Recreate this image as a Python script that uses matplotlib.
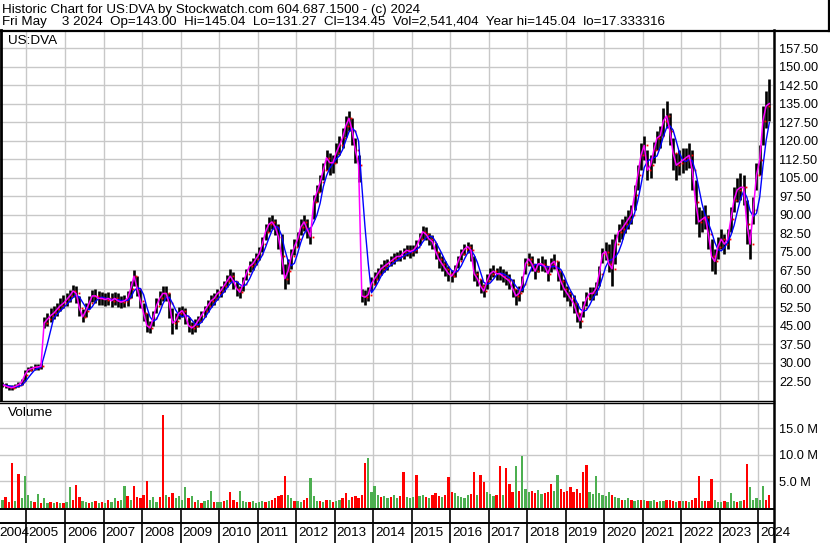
import numpy as np
import pandas as pd
import matplotlib
matplotlib.use("Agg")
import matplotlib.pyplot as plt
import matplotlib.transforms as mtransforms
from matplotlib.lines import Line2D

W, H = 830, 543
plt.rcParams['font.family'] = ['Liberation Sans', 'DejaVu Sans']

# monthly bars, first month = May 2004, last = Apr 2024
start_year, start_month = 2004, 5

close = [
    21.0, 20.5, 20.0, 19.8, 20.3, 21.0, 22.0, 25.0,                      # 2004 May-Dec
    27.0, 27.5, 28.0, 28.2, 28.5, 46.0, 47.5, 49.0, 50.0, 51.5, 53.0, 54.0,  # 2005
    55.5, 57.0, 59.0, 58.0, 52.0, 48.5, 51.0, 54.0, 57.0, 57.0, 56.0, 56.0,  # 2006
    55.5, 56.0, 55.0, 56.0, 55.0, 54.5, 55.0, 56.0, 60.0, 65.0, 60.0, 55.0,  # 2007
    50.0, 45.0, 44.0, 48.0, 53.0, 56.0, 58.0, 58.0, 54.0, 46.0, 47.0, 50.0,  # 2008
    51.0, 49.0, 45.0, 44.0, 45.0, 47.0, 49.0, 51.0, 53.0, 55.0, 56.0, 58.0,  # 2009
    59.0, 61.0, 63.0, 65.0, 63.0, 60.0, 58.5, 62.0, 66.0, 69.0, 70.0, 72.0,  # 2010
    74.0, 78.0, 83.0, 86.0, 87.0, 85.0, 81.0, 73.0, 64.0, 67.0, 73.0, 77.0,  # 2011
    80.0, 85.0, 87.0, 84.0, 81.0, 95.0, 99.0, 103.0, 108.0, 113.0, 111.0, 111.0,  # 2012
    115.0, 118.0, 121.0, 126.0, 129.0, 124.0, 116.0, 110.0, 57.0, 56.5, 57.5, 62.0,  # 2013
    64.0, 66.0, 68.0, 69.0, 70.0, 71.0, 72.0, 73.0, 73.0, 74.5, 75.5, 75.0,  # 2014
    75.5, 77.0, 80.0, 83.0, 82.0, 80.0, 79.0, 75.0, 72.0, 70.0, 68.0, 66.0,  # 2015
    65.0, 67.0, 71.0, 74.0, 76.0, 77.0, 75.5, 66.0, 64.0, 61.0, 59.0, 63.0,  # 2016
    66.0, 67.0, 66.0, 66.0, 65.0, 64.0, 63.0, 60.0, 57.0, 58.0, 62.0, 70.0,  # 2017
    72.0, 70.0, 67.0, 70.0, 70.0, 69.0, 66.0, 70.0, 71.0, 67.0, 63.0, 60.0,  # 2018
    58.0, 56.0, 54.0, 50.0, 47.0, 52.0, 56.0, 58.0, 58.0, 60.0, 66.0, 74.0,  # 2019
    75.0, 70.0, 68.0, 78.0, 83.0, 84.0, 86.0, 88.0, 90.0, 98.0, 106.0, 114.0,  # 2020
    118.0, 108.0, 110.0, 116.0, 121.0, 122.0, 128.0, 130.0, 124.0, 115.0, 110.0, 111.0,  # 2021
    112.0, 113.0, 114.0, 108.0, 95.0, 87.0, 88.0, 89.0, 82.0, 73.0, 71.0, 77.0,  # 2022
    80.0, 78.0, 80.0, 88.0, 96.0, 100.0, 101.0, 101.0, 86.0, 78.0, 92.0, 106.0,  # 2023
    112.0, 128.0, 134.0, 135.0,                                          # 2024 Jan-Apr
]

high = [
    22.0, 21.5, 21.0, 20.8, 21.2, 22.0, 23.5, 27.0,
    28.0, 28.5, 29.5, 29.5, 30.0, 48.5, 50.0, 52.0, 53.0, 54.0, 56.0, 57.5,
    58.0, 59.5, 61.5, 61.0, 57.0, 51.5, 54.0, 57.0, 59.5, 60.0, 59.0, 58.5,
    58.0, 58.5, 58.0, 58.5, 58.0, 57.0, 57.5, 59.0, 63.0, 67.5, 65.0, 60.0,
    54.0, 50.0, 47.0, 51.0, 56.0, 59.0, 61.0, 61.0, 58.0, 52.0, 50.0, 52.5,
    53.0, 52.0, 48.5, 46.5, 47.5, 49.0, 51.0, 53.0, 55.5, 57.5, 58.0, 60.0,
    61.0, 63.0, 65.5, 68.0, 66.5, 63.0, 61.0, 64.5, 68.0, 71.0, 72.5, 74.5,
    77.0, 81.0, 86.0, 89.0, 90.0, 88.0, 86.0, 82.0, 70.0, 72.0, 76.0, 80.0,
    83.0, 88.0, 90.0, 88.0, 85.0, 98.0, 102.0, 106.0, 111.0, 116.0, 115.0, 114.0,
    119.0, 122.0, 125.0, 130.0, 132.0, 129.0, 121.0, 114.0, 60.0, 59.5, 60.5, 64.5,
    66.5, 68.5, 70.0, 71.5, 72.0, 73.0, 74.5, 75.0, 75.5, 76.5, 77.5, 77.5,
    77.5, 79.5, 82.5, 85.5, 85.0, 82.5, 81.5, 78.5, 75.0, 73.0, 71.0, 69.0,
    67.5, 69.5, 73.0, 76.0, 78.0, 79.0, 78.0, 73.0, 67.0, 64.0, 62.0, 66.0,
    68.5, 69.5, 68.5, 69.0, 68.0, 67.0, 66.0, 64.0, 60.0, 61.0, 65.0, 72.5,
    74.5, 73.0, 70.0, 72.5, 73.0, 72.0, 69.0, 72.5, 74.0, 71.0, 67.0, 64.0,
    61.0, 59.0, 57.5, 54.0, 50.0, 55.0, 58.5, 60.5, 60.5, 62.5, 69.0, 76.5,
    79.0, 78.0, 80.0, 82.0, 86.0, 88.0, 89.5, 92.0, 94.0, 102.0, 110.0, 119.0,
    122.0, 116.0, 114.0, 119.5, 124.0, 126.0, 133.0, 136.0, 131.0, 121.0, 115.0, 116.0,
    117.0, 117.0, 119.0, 116.0, 104.0, 93.0, 92.0, 94.0, 90.0, 80.0, 76.0, 81.0,
    84.0, 82.0, 84.0, 93.0, 101.0, 105.0, 107.0, 106.0, 96.0, 84.0, 97.0, 111.0,
    118.0, 134.0, 140.0, 145.0,
]

low = [
    20.0, 19.6, 18.8, 18.9, 19.5, 20.2, 21.0, 22.5,
    26.0, 26.5, 27.0, 27.0, 27.5, 44.0, 45.0, 46.5, 47.5, 49.0, 51.0, 52.0,
    53.0, 54.5, 56.5, 54.0, 49.0, 46.5, 48.5, 51.5, 54.5, 54.0, 53.5, 53.5,
    53.0, 53.5, 52.5, 53.5, 52.5, 52.0, 52.5, 53.0, 56.0, 61.0, 57.0, 52.0,
    47.0, 42.5, 42.0, 45.0, 50.0, 53.5, 55.0, 55.0, 48.0, 41.5, 43.5, 47.5,
    48.5, 45.5, 42.5, 41.5, 42.5, 44.5, 46.5, 48.5, 50.5, 52.5, 53.5, 55.5,
    56.5, 58.5, 60.5, 62.5, 60.0, 57.0, 56.0, 59.0, 63.5, 66.5, 67.5, 69.5,
    71.5, 75.0, 79.5, 83.0, 84.0, 81.5, 76.0, 66.0, 60.0, 62.0, 68.0, 73.5,
    77.0, 81.5, 83.5, 80.5, 78.0, 88.0, 95.0, 99.0, 104.0, 108.0, 106.0, 107.0,
    111.0, 114.0, 117.0, 121.5, 124.0, 118.0, 111.0, 103.0, 54.5, 53.5, 55.0, 59.0,
    61.5, 63.5, 65.5, 66.5, 67.5, 69.0, 70.0, 71.0, 71.0, 72.0, 73.0, 72.5,
    73.0, 74.5, 77.5, 80.0, 79.5, 77.5, 76.0, 72.0, 68.5, 67.0, 65.0, 63.0,
    62.5, 64.5, 68.5, 71.5, 73.5, 74.5, 71.0, 63.0, 61.0, 58.0, 56.5, 60.0,
    63.5, 64.5, 63.5, 63.5, 62.5, 61.5, 60.0, 56.5, 53.5, 55.0, 58.5, 66.0,
    69.0, 67.0, 64.0, 66.5, 67.0, 66.5, 63.0, 66.5, 68.0, 63.0, 59.5, 56.5,
    55.0, 53.0, 50.0, 46.5, 44.0, 48.5, 53.0, 55.5, 55.5, 57.5, 61.0, 70.5,
    71.5, 66.5, 61.0, 70.0, 79.0, 80.0, 82.5, 84.0, 86.0, 92.0, 100.0, 108.0,
    112.0, 104.0, 105.0, 111.0, 116.0, 117.0, 122.0, 125.0, 118.0, 108.0, 104.0, 106.0,
    107.0, 108.0, 109.0, 100.0, 86.0, 81.0, 83.0, 84.0, 76.0, 67.0, 66.0, 72.0,
    76.0, 74.0, 76.0, 83.0, 91.0, 95.0, 96.0, 94.0, 78.0, 72.0, 86.0, 100.0,
    106.0, 118.0, 125.0, 128.0,
]

# volume in millions, negative = down (red), positive = up (green)
volume = [
    1.5, -2.0, -1.2, -8.4, 1.3, -6.5, 1.8, 6.0,
    2.5, 1.4, -1.2, 2.6, -1.0, 1.8, 1.0, -1.2, 0.9, -1.1, 1.0, -0.9,
    1.2, 3.9, -1.5, -4.4, -2.0, 1.3, 1.1, -1.0, 1.2, -1.4, 1.0, -1.1,
    1.0, -1.6, 1.2, 1.8, -1.3, 1.5, 4.1, -2.2, 1.6, -4.2, -2.0, -1.8,
    -2.5, -5.1, 1.5, 2.0, 1.2, -2.0, -17.5, 2.5, -2.0, -2.8, 1.8, 2.2,
    1.5, 4.0, -1.8, 2.2, -1.2, 1.5, -1.0, 1.4, 1.6, 3.3, -1.2, 1.1,
    1.2, -1.4, 1.5, -3.0, -1.5, -1.2, 3.3, 1.4, 1.2, -1.1, 1.3, 1.0,
    1.2, 1.4, -1.1, 1.3, -1.5, -1.8, -2.2, -2.5, -6.0, 2.5, 1.8, -1.4,
    1.3, 1.2, -1.5, -1.8, 5.6, 2.2, 1.4, -1.3, 1.2, -1.5, 1.6, -1.2,
    1.4, 1.6, -1.8, -2.8, 1.5, -2.0, -2.2, -1.8, -2.5, -8.4, 9.4, 3.0,
    4.2, 2.5, -2.0, 2.2, 1.8, -2.0, 2.4, 1.8, -2.2, -6.8, 2.0, 1.8,
    2.0, -6.3, 2.2, 2.5, -2.0, 1.8, -2.4, -2.8, -2.2, 2.0, -2.5, -5.9,
    -3.0, 2.8, 2.2, 2.0, 1.8, 2.4, -2.6, -6.8, 2.4, -6.3, -4.9, 3.0,
    2.6, 2.2, -2.5, -7.9, 2.4, -7.5, -4.5, -3.0, 7.9, -3.2, 9.9, 3.5,
    3.0, -3.2, -2.8, 3.4, 2.6, -2.8, -3.0, -4.5, 3.2, 6.3, -3.5, -3.0,
    -3.2, -4.0, -3.0, -3.5, -2.8, -6.8, -8.2, 3.0, 2.6, 6.0, 2.8, 2.4,
    2.2, 3.0, -2.5, 2.0, 1.8, -1.6, 1.5, 1.8, -1.5, 1.4, 1.6, -1.5,
    1.6, -1.4, 1.3, 1.5, -1.2, 1.4, 1.3, -1.5, -1.6, -1.4, 1.2, -1.3,
    1.3, -1.4, 1.2, -1.6, -1.8, -6.0, 1.4, -1.3, -1.4, -5.4, 1.6, 1.2,
    1.2, -1.3, 1.1, 2.8, 1.4, -1.2, 1.3, -1.5, -8.3, 4.0, 1.6, 1.8,
    1.5, 4.2, -1.6, -2.4,
]

price_ticks = np.arange(22.5, 158, 7.5)
vol_ticks = [5, 10, 15]
vol_labels = ["5.0 M", "10.0 M", "15.0 M"]
years = list(range(2005, 2025))

header1 = "Historic Chart for US:DVA by Stockwatch.com 604.687.1500 - (c) 2024"
header2 = ("Fri May    3 2024  Op=143.00  Hi=145.04  Lo=131.27  Cl=134.45  "
           "Vol=2,541,404  Year hi=145.04  lo=17.333316")

n = len(close)
t = start_year + (start_month - 1 + np.arange(n) + 0.5) / 12.0
close_s = pd.Series(close)
ma_fast = close_s.values
ma_slow = close_s.rolling(4, min_periods=1).mean().values
opens = np.r_[close[0], close[:-1]]
vol = np.array(volume)

XMIN, XMAX = 2004.312, 2024.387
GRID = '#c8c8c8'


def fx(px):
    return px / W


def fy(py):
    return 1 - py / H


fig = plt.figure(figsize=(W / 100, H / 100), dpi=100)
fig.patch.set_facecolor('white')

# price panel
ax = fig.add_axes([0, fy(400), fx(773), (400 - 32) / H])
ax.set_xlim(XMIN, XMAX)
ax.set_ylim(14.8, 164.0)
ax.set_xticks(years)
ax.set_yticks(price_ticks)
ax.set_yticklabels([f"{v:.2f}" for v in price_ticks])
ax.yaxis.set_ticks_position('right')
ax.tick_params(axis='y', length=0, pad=4.5, labelsize=9.2)
ax.tick_params(axis='x', length=0, labelbottom=False)
ax.grid(color=GRID, lw=1.0)
ax.set_axisbelow(True)
for s in ax.spines.values():
    s.set_visible(False)

ax.vlines(t, low, high, color='black', lw=1.9, zorder=2)
ax.plot(t - 0.02, opens, ls='none', marker='s', ms=1.3, color='#ff0000',
        mec='none', zorder=3)
ax.plot(t, ma_slow, color='#0000ff', lw=1.0, zorder=4)
ax.plot(t, ma_fast, color='#ff00ff', lw=1.1, zorder=5)
ax.text(8 / 773, 1 - 9 / 368, "US:DVA", transform=ax.transAxes,
        ha='left', va='center', fontsize=9.7)

# volume panel
ax2 = fig.add_axes([0, fy(508), fx(773), (508 - 403) / H])
ax2.set_xlim(XMIN, XMAX)
ax2.set_ylim(0, 19.8)
ax2.set_xticks(years)
ax2.set_yticks(vol_ticks)
ax2.set_yticklabels(vol_labels)
ax2.yaxis.set_ticks_position('right')
ax2.tick_params(axis='y', length=0, pad=4.5, labelsize=9.2)
ax2.tick_params(axis='x', length=0, labelbottom=False)
ax2.grid(color=GRID, lw=1.0)
ax2.set_axisbelow(True)
for s in ax2.spines.values():
    s.set_visible(False)
colors = np.where(vol < 0, '#ff0000', '#4caf50')
ax2.bar(t, np.abs(vol), width=0.72 / 12, color=colors, lw=0, zorder=2)
ax2.text(8 / 773, 1 - 10 / 105, "Volume", transform=ax2.transAxes,
         ha='left', va='center', fontsize=9.7)

# date row
ax3 = fig.add_axes([0, 0, fx(773), (543 - 508) / H])
ax3.set_xlim(XMIN, XMAX)
ax3.set_ylim(0, 1)
ax3.axis('off')
ax3.vlines(years, 0, 1, color='black', lw=1.2)
off = mtransforms.offset_copy(ax3.transData, fig=fig, x=2, y=0, units='dots')
for yr in years:
    ax3.text(yr, 0.29, str(yr), transform=off, ha='left', va='center',
             fontsize=9.7, clip_on=False)
ax3.text(-1 / 773, 0.29, "2004", transform=ax3.transAxes, ha='left',
         va='center', fontsize=9.7)


# frame lines (pixel positions)
def hline(y, x0, x1, lw):
    fig.add_artist(Line2D([fx(x0), fx(x1)], [fy(y), fy(y)], color='black',
                          lw=lw, transform=fig.transFigure))


def vline(x, y0, y1, lw):
    fig.add_artist(Line2D([fx(x), fx(x)], [fy(y0), fy(y1)], color='black',
                          lw=lw, transform=fig.transFigure))


hline(30.5, 0, 830, 1.6)
vline(829, 0, 31, 1.6)
vline(774, 30, 543, 1.8)
vline(1, 30, 400, 2.0)
hline(400.5, 0, 774, 1.0)
hline(403.0, 0, 774, 1.0)
hline(508.5, 0, 774, 1.4)
hline(523.0, 0, 774, 1.4)

fig.text(fx(2), fy(10), header1, ha='left', va='center', fontsize=9.6)
fig.text(fx(2), fy(22.5), header2, ha='left', va='center', fontsize=9.6)

fig.savefig("out.png", dpi=100)
